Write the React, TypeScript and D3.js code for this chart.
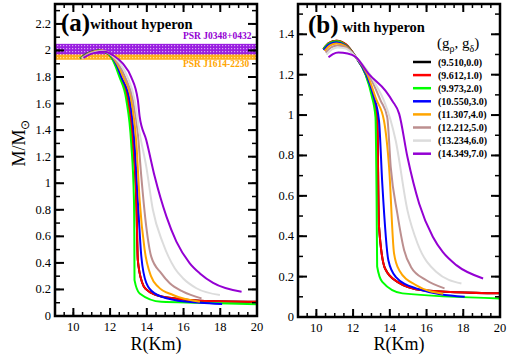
import React from 'react';
import * as d3 from 'd3';

// coupling pairs (g_rho, g_delta)
const labels = ['(9.510,0.0)', '(9.612,1.0)', '(9.973,2.0)', '(10.550,3.0)', '(11.307,4.0)', '(12.212,5.0)', '(13.234,6.0)', '(14.349,7.0)'];
const colors = ['#000000', '#ff0000', '#00ff00', '#0000ff', '#ffa500', '#bc8f8f', '#dcdcdc', '#9400d3'];

// [R (km), M/Msun] - without hyperon
const noHypBlack = [[10.38, 1.94], [10.8, 1.98], [11.4, 2.0], [11.9, 1.975], [12.28, 1.9], [12.56, 1.8], [12.97, 1.63], [13.24, 1.3], [13.43, 0.87], [13.51, 0.42], [13.75, 0.25], [13.97, 0.2], [14.52, 0.158], [15.43, 0.133], [16.89, 0.115], [20, 0.107]];
const noHypRed = [[10.38, 1.94], [10.8, 1.98], [11.4, 2.0], [11.9, 1.975], [12.28, 1.9], [12.56, 1.8], [12.97, 1.63], [13.24, 1.3], [13.43, 0.87], [13.51, 0.42], [13.75, 0.25], [13.97, 0.2], [14.52, 0.158], [15.43, 0.133], [16.89, 0.115], [20, 0.107]];
const noHypGreen = [[10.36, 1.94], [10.8, 1.98], [11.4, 2.0], [11.9, 1.975], [12.24, 1.9], [12.51, 1.8], [12.88, 1.63], [13.15, 1.3], [13.3, 0.87], [13.32, 0.6], [13.33, 0.27], [13.61, 0.17], [14.79, 0.107], [16.89, 0.1], [20, 0.088]];
const noHypBlue = [[10.4, 1.94], [10.85, 1.982], [11.45, 2.0], [11.95, 1.975], [12.32, 1.9], [12.62, 1.8], [13.06, 1.63], [13.33, 1.3], [13.51, 0.87], [13.7, 0.45], [13.97, 0.25], [14.43, 0.17], [15.5, 0.12], [16.9, 0.1], [18.1, 0.09]];
const noHypOrange = [[10.42, 1.94], [10.9, 1.982], [11.5, 2.0], [12.0, 1.972], [12.38, 1.9], [12.72, 1.8], [13.15, 1.63], [13.43, 1.3], [13.61, 0.87], [13.88, 0.5], [14.24, 0.296], [14.61, 0.221], [15.43, 0.158], [16.89, 0.107]];
const noHypBrown = [[10.45, 1.94], [10.95, 1.982], [11.55, 1.998], [12.05, 1.97], [12.45, 1.9], [12.82, 1.8], [13.24, 1.63], [13.51, 1.377], [13.7, 1.05], [13.97, 0.673], [14.24, 0.447], [14.79, 0.321], [15.25, 0.246], [15.97, 0.183], [16.98, 0.133]];
const noHypGray = [[10.48, 1.94], [11.0, 1.98], [11.6, 1.995], [12.1, 1.965], [12.55, 1.9], [12.95, 1.8], [13.33, 1.63], [13.61, 1.377], [13.97, 1.125], [14.33, 0.8], [14.88, 0.548], [15.52, 0.36], [15.97, 0.284], [16.7, 0.209], [17.98, 0.158]];
const noHypViolet = [[10.55, 1.945], [11.1, 1.98], [11.7, 1.99], [12.2, 1.96], [12.7, 1.9], [13.15, 1.8], [13.51, 1.628], [13.61, 1.502], [13.97, 1.326], [14.43, 1.05], [15.07, 0.748], [15.61, 0.56], [16.34, 0.397], [16.89, 0.321], [17.61, 0.25], [19.16, 0.183]];

// with hyperon
const hypBlack = [[10.38, 1.327], [10.7, 1.358], [11.1, 1.368], [11.6, 1.35], [12.13, 1.29], [12.7, 1.2], [13.05, 1.1], [13.31, 0.99], [13.41, 0.45], [13.74, 0.24], [14.41, 0.174], [15.79, 0.133], [20, 0.117]];
const hypRed = [[10.38, 1.327], [10.7, 1.358], [11.1, 1.368], [11.6, 1.35], [12.13, 1.29], [12.7, 1.2], [13.05, 1.1], [13.31, 0.99], [13.41, 0.45], [13.74, 0.24], [14.41, 0.174], [15.79, 0.133], [20, 0.117]];
const hypGreen = [[10.38, 1.327], [10.7, 1.355], [11.1, 1.365], [11.6, 1.345], [12.13, 1.289], [12.68, 1.2], [13.0, 1.1], [13.22, 0.99], [13.28, 0.58], [13.31, 0.25], [13.59, 0.174], [14.69, 0.117], [20, 0.092]];
const hypBlue = [[10.4, 1.322], [10.7, 1.35], [11.1, 1.36], [11.6, 1.343], [12.13, 1.289], [12.72, 1.2], [13.1, 1.1], [13.41, 0.973], [13.59, 0.66], [13.92, 0.281], [14.32, 0.199], [15.42, 0.142], [18.08, 0.1]];
const hypOrange = [[10.45, 1.318], [10.75, 1.345], [11.1, 1.355], [11.6, 1.34], [12.13, 1.289], [12.78, 1.2], [13.25, 1.08], [13.68, 0.973], [13.96, 0.742], [14.23, 0.315], [14.51, 0.232], [15.42, 0.158], [16.9, 0.115]];
const hypBrown = [[10.5, 1.31], [10.8, 1.335], [11.15, 1.345], [11.6, 1.335], [12.13, 1.289], [12.8, 1.21], [13.5, 1.072], [13.86, 0.989], [14.05, 0.742], [14.41, 0.512], [14.78, 0.331], [15.15, 0.248], [15.97, 0.183], [16.98, 0.142]];
const hypGray = [[10.55, 1.3], [10.85, 1.325], [11.15, 1.335], [11.6, 1.33], [12.13, 1.289], [12.85, 1.21], [13.3, 1.14], [13.68, 1.072], [14.32, 0.874], [14.96, 0.528], [15.51, 0.364], [16.52, 0.224], [17.9, 0.166]];
const hypViolet = [[10.66, 1.286], [10.9, 1.302], [11.2, 1.31], [11.7, 1.305], [12.13, 1.289], [12.86, 1.203], [13.77, 1.12], [14.14, 1.07], [14.51, 1.006], [14.96, 0.792], [15.6, 0.561], [16.34, 0.397], [16.88, 0.322], [17.62, 0.257], [19.08, 0.191]];

const noHyp = [noHypBlack, noHypRed, noHypGreen, noHypBlue, noHypOrange, noHypBrown, noHypGray, noHypViolet];
const withHyp = [hypBlack, hypRed, hypGreen, hypBlue, hypOrange, hypBrown, hypGray, hypViolet];

const xTicks = [10, 12, 14, 16, 18, 20];
const yTicksA = [0, 0.2, 0.4, 0.6, 0.8, 1, 1.2, 1.4, 1.6, 1.8, 2, 2.2];
const yTicksB = [0, 0.2, 0.4, 0.6, 0.8, 1, 1.2, 1.4];

// pulsar mass bands [low, high]
const psrJ0348 = [1.97, 2.05];
const psrJ1614 = [1.93, 2.01];

const font = "'Liberation Serif', 'Times New Roman', serif";

type PanelProps = {
  left: number; right: number; top: number; bottom: number;
  yMax: number; yTicks: number[]; series: number[][][];
  children?: (x: any, y: any) => React.ReactNode;
};

const Panel = ({ left, right, top, bottom, yMax, yTicks, series, children }: PanelProps) => {
  const x = d3.scaleLinear().domain([9, 20]).range([left, right]);
  const y = d3.scaleLinear().domain([0, yMax]).range([bottom, top]);
  const line = d3.line<number[]>()
    .x(d => x(d[0]))
    .y(d => y(d[1]))
    .curve(d3.curveMonotoneX);

  const xMinor = d3.range(9, 20.01, 0.5);
  const yMinor = d3.range(0, yMax, 0.1);

  return (
    <g>
      <defs>
        <clipPath id={`clip${left}`}>
          <rect x={left} y={top} width={right - left} height={bottom - top} />
        </clipPath>
      </defs>
      {children && children(x, y)}
      <g clipPath={`url(#clip${left})`}>
        {series.map((s, i) => (
          <path key={i} d={line(s) || ''} fill="none" stroke={colors[i]} strokeWidth={2} strokeLinejoin="round" />
        ))}
      </g>
      {/* minor ticks */}
      {xMinor.map((t, i) => (
        <g key={'xm' + i} stroke="#000" strokeWidth={1.5}>
          <line x1={x(t)} x2={x(t)} y1={bottom} y2={bottom - 4} />
          <line x1={x(t)} x2={x(t)} y1={top} y2={top + 4} />
        </g>
      ))}
      {yMinor.map((t, i) => (
        <g key={'ym' + i} stroke="#000" strokeWidth={1.5}>
          <line x1={left} x2={left + 5} y1={y(t)} y2={y(t)} />
          <line x1={right} x2={right - 5} y1={y(t)} y2={y(t)} />
        </g>
      ))}
      {/* major ticks */}
      {xTicks.map(t => (
        <g key={'x' + t}>
          <line x1={x(t)} x2={x(t)} y1={bottom} y2={bottom - 8} stroke="#000" strokeWidth={2} />
          <line x1={x(t)} x2={x(t)} y1={top} y2={top + 8} stroke="#000" strokeWidth={2} />
          <text x={x(t)} y={bottom + 15} textAnchor="middle" fontSize={12.5} fontFamily={font}>{t}</text>
        </g>
      ))}
      {yTicks.map(t => (
        <g key={'y' + t}>
          <line x1={left} x2={left + 9} y1={y(t)} y2={y(t)} stroke="#000" strokeWidth={2} />
          <line x1={right} x2={right - 9} y1={y(t)} y2={y(t)} stroke="#000" strokeWidth={2} />
          <text x={left - 4} y={y(t) + 4} textAnchor="end" fontSize={12.5} fontFamily={font}>{t}</text>
        </g>
      ))}
      <rect x={left} y={top} width={right - left} height={bottom - top} fill="none" stroke="#000" strokeWidth={2.5} />
      <text x={(left + right) / 2} y={350} textAnchor="middle" fontSize={18} fontFamily={font}>R(Km)</text>
    </g>
  );
};

const App = () => {
  const legendY = d3.range(labels.length).map(i => 62 + i * 13.1);
  return (
    <svg width={507} height={358} style={{ position: 'absolute', left: 0, top: 0 }}>
      <defs>
        <pattern id="dotsViolet" width={3} height={3} patternUnits="userSpaceOnUse">
          <rect width={3} height={3} fill="#9a1ee0" />
          <rect width={1.2} height={1.2} fill="#d9a6f5" />
        </pattern>
        <pattern id="dotsOrange" width={3} height={3} patternUnits="userSpaceOnUse">
          <rect width={3} height={3} fill="#ffae1a" />
          <rect width={1.2} height={1.2} fill="#ffe0a0" />
        </pattern>
      </defs>
      <rect width={507} height={358} fill="#fff" />

      <Panel left={55} right={257} top={4} bottom={316} yMax={2.35} yTicks={yTicksA} series={noHyp}>
        {(x, y) => (
          <g>
            <rect x={x(9)} width={x(20) - x(9)} y={y(psrJ1614[1])} height={y(psrJ1614[0]) - y(psrJ1614[1])} fill="url(#dotsOrange)" />
            <rect x={x(9)} width={x(20) - x(9)} y={y(psrJ0348[1])} height={y(psrJ0348[0]) - y(psrJ0348[1])} fill="url(#dotsViolet)" />
            <text x={183} y={39} fontSize={9.5} fontWeight="bold" fill="#9400d3" fontFamily={font}>PSR J0348+0432</text>
            <text x={183} y={67} fontSize={9.5} fontWeight="bold" fill="#ffa500" fontFamily={font}>PSR J1614-2230</text>
          </g>
        )}
      </Panel>
      <Panel left={298} right={500} top={4} bottom={317} yMax={1.55} yTicks={yTicksB} series={withHyp} />

      {/* titles */}
      <text x={61} y={31} fontFamily={font} fontWeight="bold">
        <tspan fontSize={25}>(a)</tspan>
        <tspan fontSize={14.5} dy={-2}>without hyperon</tspan>
      </text>
      <text x={308} y={33} fontFamily={font} fontWeight="bold">
        <tspan fontSize={25}>(b)</tspan>
        <tspan fontSize={14.5} dx={4} dy={-1}>with hyperon</tspan>
      </text>

      {/* legend */}
      <text x={437} y={48} fontFamily={font} fontSize={15}>
        (g<tspan fontSize={10} dy={4}>ρ</tspan><tspan dy={-4}>, g</tspan><tspan fontSize={10} dy={4}>δ</tspan><tspan dy={-4}>)</tspan>
      </text>
      {labels.map((l, i) => (
        <g key={l}>
          <line x1={413} x2={431} y1={legendY[i]} y2={legendY[i]} stroke={colors[i]} strokeWidth={2.5} />
          <text x={438} y={legendY[i] + 3.5} fontFamily={font} fontSize={10} fontWeight="bold">{l}</text>
        </g>
      ))}

      {/* y label */}
      <text transform="translate(25,143) rotate(-90)" textAnchor="middle" fontFamily={font} fontSize={18}>
        M/M<tspan fontSize={12} dy={4}>⊙</tspan>
      </text>
    </svg>
  );
};

export default App;
